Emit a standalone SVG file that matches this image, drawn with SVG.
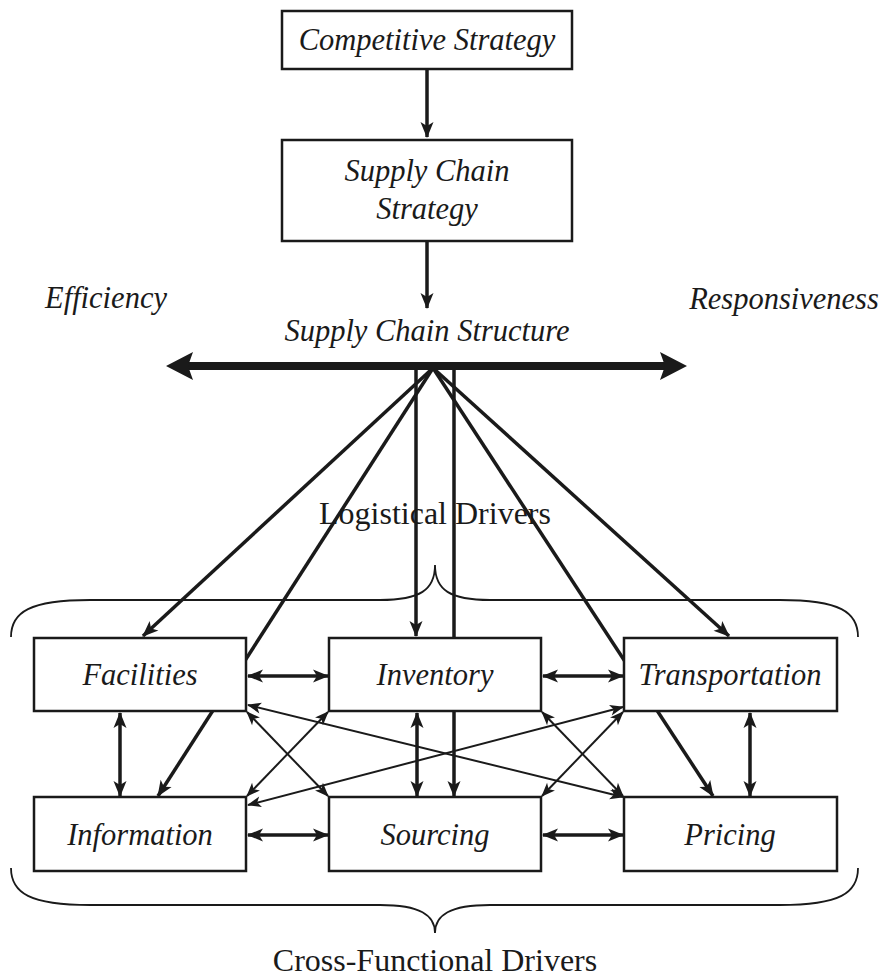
<svg xmlns="http://www.w3.org/2000/svg" width="881" height="977" viewBox="0 0 881 977">
<style>
.box{fill:#fff;stroke:#1a1a1a;stroke-width:2.5}
.lbl{font-family:"Liberation Serif","Times New Roman",serif;font-style:italic;font-size:30.5px;fill:#1a1a1a;text-anchor:middle}
.plain{font-family:"Liberation Serif","Times New Roman",serif;font-size:32px;fill:#1a1a1a;text-anchor:middle}
.thick{stroke:#1a1a1a;stroke-width:3.5;fill:none}
.thin{stroke:#1a1a1a;stroke-width:2;fill:none}
.brace{stroke:#1a1a1a;stroke-width:1.8;fill:none}
.head{fill:#1a1a1a}
</style>
<defs>
<marker id="ah" viewBox="-17 -8 18 16" refX="0" refY="0" markerWidth="18" markerHeight="16" markerUnits="userSpaceOnUse" orient="auto-start-reverse"><path d="M1,0 L-15,-6.5 L-11,0 L-15,6.5 Z" fill="#1a1a1a"/></marker>
<marker id="at" viewBox="-15 -7 16 14" refX="0" refY="0" markerWidth="16" markerHeight="14" markerUnits="userSpaceOnUse" orient="auto-start-reverse"><path d="M1,0 L-13,-5.5 L-9.5,0 L-13,5.5 Z" fill="#1a1a1a"/></marker>
</defs>

<g id="connectors">
<line class="thick" x1="427" y1="69" x2="427" y2="137" marker-end="url(#ah)"/>
<line class="thick" x1="427" y1="241" x2="427" y2="308" marker-end="url(#ah)"/>
<!-- hub lines -->
<line class="thick" x1="433" y1="368" x2="143" y2="636" marker-end="url(#ah)"/>
<line class="thick" x1="433" y1="368" x2="158" y2="796" marker-end="url(#ah)"/>
<line class="thick" x1="416" y1="366" x2="416" y2="636" marker-end="url(#ah)"/>
<line class="thick" x1="454" y1="366" x2="454" y2="796" marker-end="url(#ah)"/>
<line class="thick" x1="433" y1="368" x2="713" y2="796" marker-end="url(#ah)"/>
<line class="thick" x1="433" y1="368" x2="729" y2="636" marker-end="url(#ah)"/>
<!-- structure bar: efficiency <-> responsiveness -->
<line x1="186" y1="366" x2="667" y2="366" stroke="#1a1a1a" stroke-width="8"/>
<polygon class="head" points="166,366 193,352 188,366 193,380"/>
<polygon class="head" points="687,366 660,352 665,366 660,380"/>
<!-- horizontal double arrows -->
<line class="thick" x1="248" y1="676" x2="328" y2="676" marker-start="url(#ah)" marker-end="url(#ah)"/>
<line class="thick" x1="543" y1="676" x2="623" y2="676" marker-start="url(#ah)" marker-end="url(#ah)"/>
<line class="thick" x1="248" y1="835" x2="328" y2="835" marker-start="url(#ah)" marker-end="url(#ah)"/>
<line class="thick" x1="543" y1="835" x2="623" y2="835" marker-start="url(#ah)" marker-end="url(#ah)"/>
<!-- vertical double arrows -->
<line class="thick" x1="120" y1="713" x2="120" y2="796" marker-start="url(#ah)" marker-end="url(#ah)"/>
<line class="thick" x1="417" y1="713" x2="417" y2="796" marker-start="url(#ah)" marker-end="url(#ah)"/>
<line class="thick" x1="750" y1="713" x2="750" y2="796" marker-start="url(#ah)" marker-end="url(#ah)"/>
<!-- thin cross arrows -->
<line class="thin" x1="247" y1="712" x2="328" y2="796" marker-start="url(#at)" marker-end="url(#at)"/>
<line class="thin" x1="328" y1="712" x2="247" y2="796" marker-start="url(#at)" marker-end="url(#at)"/>
<line class="thin" x1="248" y1="705" x2="623" y2="797" marker-start="url(#at)" marker-end="url(#at)"/>
<line class="thin" x1="623" y1="707" x2="248" y2="805" marker-start="url(#at)" marker-end="url(#at)"/>
<line class="thin" x1="542" y1="712" x2="623" y2="796" marker-start="url(#at)" marker-end="url(#at)"/>
<line class="thin" x1="623" y1="712" x2="542" y2="796" marker-start="url(#at)" marker-end="url(#at)"/>
</g>

<g id="braces">
<path class="brace" d="M11,637 C11,612 30,600 90,600 L380,600 C420,600 435,590 435,565 C435,590 450,600 490,600 L780,600 C840,600 858,612 858,637"/>
<path class="brace" d="M11,868 C11,893 30,905 90,905 L380,905 C420,905 435,915 435,933 C435,915 450,905 490,905 L780,905 C840,905 858,893 858,868"/>
</g>

<g id="competitive-strategy"><rect class="box" x="282" y="11" width="290" height="58"/><text class="lbl" x="427" y="50">Competitive Strategy</text></g>
<g id="supply-chain-strategy"><rect class="box" x="282" y="140" width="290" height="101"/><text class="lbl" x="427" y="181">Supply Chain</text><text class="lbl" x="427" y="219">Strategy</text></g>
<g id="efficiency"><text class="lbl" x="106" y="308">Efficiency</text></g>
<g id="responsiveness"><text class="lbl" x="784" y="309">Responsiveness</text></g>
<g id="supply-chain-structure"><text class="lbl" x="427" y="341">Supply Chain Structure</text></g>
<g id="logistical-drivers"><text class="plain" x="435" y="524">Logistical Drivers</text></g>
<g id="facilities"><rect class="box" x="34" y="638" width="212" height="73"/><text class="lbl" x="140" y="685">Facilities</text></g>
<g id="inventory"><rect class="box" x="329" y="638" width="212" height="73"/><text class="lbl" x="435" y="685">Inventory</text></g>
<g id="transportation"><rect class="box" x="624" y="638" width="213" height="73"/><text class="lbl" x="730" y="685">Transportation</text></g>
<g id="information"><rect class="box" x="34" y="797" width="212" height="74"/><text class="lbl" x="140" y="845">Information</text></g>
<g id="sourcing"><rect class="box" x="329" y="797" width="212" height="74"/><text class="lbl" x="435" y="845">Sourcing</text></g>
<g id="pricing"><rect class="box" x="624" y="797" width="213" height="74"/><text class="lbl" x="730" y="845">Pricing</text></g>
<g id="cross-functional-drivers"><text class="plain" x="435" y="971">Cross-Functional Drivers</text></g>
</svg>
